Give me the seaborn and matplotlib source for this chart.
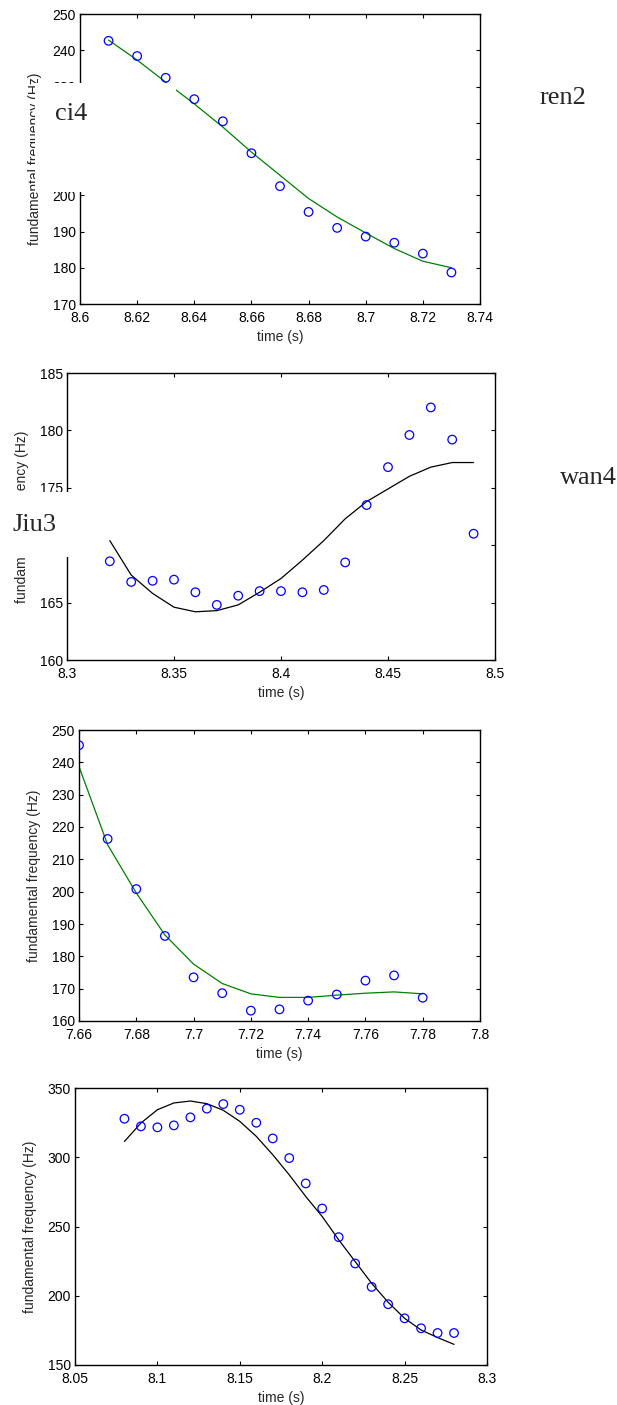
import numpy as np
import seaborn as sns
import matplotlib.pyplot as plt
from matplotlib.patches import Rectangle

# ---- data ----
# panel 1 (ci4 / ren2)
t1 = [8.61, 8.62, 8.63, 8.64, 8.65, 8.66, 8.67, 8.68, 8.69, 8.70, 8.71, 8.72, 8.73]
f1_obs = [242.6, 238.4, 232.4, 226.5, 220.4, 211.6, 202.5, 195.4, 191.0, 188.6, 186.9, 183.9, 178.7]
f1_fit = [242.8, 237.3, 231.2, 225.2, 218.8, 211.9, 205.5, 199.1, 194.0, 189.6, 185.3, 181.8, 180.0]

# panel 2 (Jiu3 / wan4)
t2 = [8.32, 8.33, 8.34, 8.35, 8.36, 8.37, 8.38, 8.39, 8.40, 8.41, 8.42, 8.43,
      8.44, 8.45, 8.46, 8.47, 8.48, 8.49]
f2_obs = [168.6, 166.8, 166.9, 167.0, 165.9, 164.8, 165.6, 166.0, 166.0, 165.9, 166.1, 168.5,
          173.5, 176.8, 179.6, 182.0, 179.2, 171.0]
f2_fit = [170.4, 167.4, 165.8, 164.6, 164.2, 164.3, 164.8, 165.9, 167.1, 168.7, 170.4, 172.3,
          173.8, 174.9, 176.0, 176.8, 177.2, 177.2]

# panel 3
t3 = [7.66, 7.67, 7.68, 7.69, 7.70, 7.71, 7.72, 7.73, 7.74, 7.75, 7.76, 7.77, 7.78]
f3_obs = [245.3, 216.3, 200.8, 186.3, 173.5, 168.6, 163.2, 163.6, 166.3, 168.2, 172.5, 174.1, 167.2]
f3_fit = [238.7, 214.5, 199.6, 186.6, 177.6, 171.6, 168.4, 167.3, 167.3, 168.0, 168.6, 169.0, 168.4]

# panel 4
t4 = [8.08, 8.09, 8.10, 8.11, 8.12, 8.13, 8.14, 8.15, 8.16, 8.17, 8.18, 8.19, 8.20,
      8.21, 8.22, 8.23, 8.24, 8.25, 8.26, 8.27, 8.28]
f4_obs = [327.8, 322.3, 321.6, 323.0, 328.8, 335.1, 338.4, 334.3, 324.9, 313.6, 299.4, 281.1, 263.0,
          242.3, 223.3, 206.4, 193.9, 183.7, 176.5, 173.1, 173.1]
f4_fit = [311.4, 324.7, 334.3, 339.2, 340.6, 338.7, 333.9, 325.9, 315.1, 301.8, 287.3, 271.7, 257.2,
          240.4, 224.7, 209.0, 195.3, 183.7, 175.3, 169.8, 164.9]

# ticks
xt1 = [8.6, 8.62, 8.64, 8.66, 8.68, 8.7, 8.72, 8.74]
yt1 = [170, 180, 190, 200, 210, 220, 230, 240, 250]
xt2 = [8.3, 8.35, 8.4, 8.45, 8.5]
yt2 = [160, 165, 170, 175, 180, 185]
xt3 = [7.66, 7.68, 7.7, 7.72, 7.74, 7.76, 7.78, 7.8]
yt3 = [160, 170, 180, 190, 200, 210, 220, 230, 240, 250]
xt4 = [8.05, 8.1, 8.15, 8.2, 8.25, 8.3]
yt4 = [150, 200, 250, 300, 350]

# syllable labels
syll_left = ['ci4', 'Jiu3']
syll_right = ['ren2', 'wan4']

xlabel = 'time (s)'
ylabel = 'fundamental frequency (Hz)'

sns.set_style('white')
plt.rcParams['font.family'] = ['Liberation Sans', 'DejaVu Sans']
plt.rcParams.update({
    'xtick.direction': 'in', 'ytick.direction': 'in',
    'xtick.top': True, 'ytick.right': True,
    'xtick.bottom': True, 'ytick.left': True,
    'xtick.major.size': 3, 'ytick.major.size': 3,
    'xtick.major.width': 0.8, 'ytick.major.width': 0.8,
    'xtick.major.pad': 5, 'ytick.major.pad': 3,
    'xtick.color': 'black', 'ytick.color': 'black',
    'xtick.labelsize': 10, 'ytick.labelsize': 10,
    'axes.edgecolor': 'black', 'axes.linewidth': 1.0,
})

W, H = 617, 1405
fig = plt.figure(figsize=(W / 100, H / 100), dpi=100)


def add_panel(left, right, top, bottom):
    return fig.add_axes([left / W, 1 - bottom / H, (right - left) / W, (bottom - top) / H])


def fmt(v):
    return '%g' % v


panels = [
    (t1, f1_obs, f1_fit, (0, 0.5, 0), xt1, yt1, (80, 480, 14, 304)),
    (t2, f2_obs, f2_fit, 'black', xt2, yt2, (67, 495, 373, 660)),
    (t3, f3_obs, f3_fit, (0, 0.5, 0), xt3, yt3, (79, 480, 730, 1021)),
    (t4, f4_obs, f4_fit, 'black', xt4, yt4, (75, 487, 1088, 1365)),
]

for t, obs, fit, lc, xt, yt, box in panels:
    ax = add_panel(*box)
    sns.lineplot(x=t, y=fit, ax=ax, color=lc, linewidth=0.9, sort=False)
    sns.scatterplot(x=t, y=obs, ax=ax, marker='o', s=38, facecolor='none',
                    edgecolor='blue', linewidth=0.9, zorder=3)
    ax.set_xlim(xt[0], xt[-1])
    ax.set_ylim(yt[0], yt[-1])
    ax.set_xticks(xt)
    ax.set_xticklabels([fmt(v) for v in xt])
    ax.set_yticks(yt)
    ax.set_yticklabels([fmt(v) for v in yt])
    for s in ax.spines.values():
        s.set_visible(True)
    ax.set_xlabel(xlabel, fontsize=10)
    ax.set_ylabel(ylabel, fontsize=10)
    l, r, tp, b = box
    ax.xaxis.set_label_coords(0.5, -26 / (b - tp))
    ax.yaxis.set_label_coords(-38 / (r - l), 0.5)

# white label boxes overlapping the charts
for (x0, y0, x1, y1) in [(35, 83, 176, 192), (0, 492, 100, 557)]:
    fig.add_artist(Rectangle((x0 / W, 1 - y1 / H), (x1 - x0) / W, (y1 - y0) / H,
                             transform=fig.transFigure, facecolor='white',
                             edgecolor='none', zorder=5))

serif = ['Liberation Serif', 'DejaVu Serif']
fig.text(55 / W, 1 - 120 / H, syll_left[0], family=serif, fontsize=19, zorder=6)
fig.text(12 / W, 1 - 531 / H, syll_left[1], family=serif, fontsize=19, zorder=6)
fig.text(540 / W, 1 - 104 / H, syll_right[0], family=serif, fontsize=19, zorder=6)
fig.text(560 / W, 1 - 484 / H, syll_right[1], family=serif, fontsize=19, zorder=6)

fig.savefig('out.png', dpi=100, facecolor='white')
